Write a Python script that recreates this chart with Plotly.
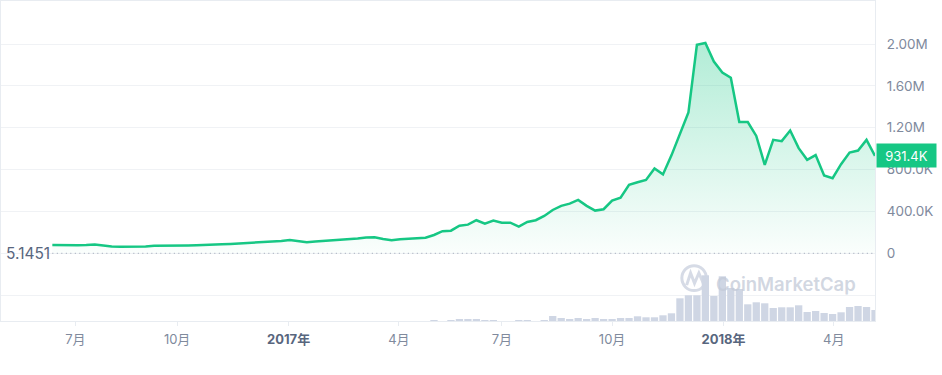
import plotly.graph_objects as go
import pandas as pd

# ---------------- data ----------------
start_date = "2016-06-22"          # first weekly point
# weekly price, in thousands
prices_k = [79, 77, 75, 77, 79, 84, 75, 65, 63, 63,
            63, 65, 73, 72, 70, 72, 75, 77, 78, 84,
            86, 89, 93, 96, 100, 103, 110, 118, 127, 118,
            105, 113, 118, 127, 127, 135, 142, 150, 153, 137,
            124, 134, 139, 140, 149, 175, 211, 216, 264, 274,
            316, 283, 312, 293, 293, 255, 300, 316, 357, 414,
            453, 475, 510, 453, 408, 421, 503, 532, 654, 679,
            701, 810, 754, 936, 1132, 1345, 1993, 2010, 1833, 1728,
            1677, 1254, 1254, 1122, 845, 1084, 1072, 1173, 1005, 893,
            938, 743, 718, 852, 963, 982, 1084, 931.4]
# weekly volume (arbitrary units)
volume = [0, 0, 0, 0, 0, 0, 0, 0, 0, 0,
          0, 0, 0, 0, 0, 0, 0, 0, 0, 0,
          0, 0, 0, 0, 0, 0, 0, 0, 0, 0,
          0, 0, 0, 0, 0, 0, 0, 0, 0, 0,
          0, 0, 0, 0, 0, 10, 0, 10, 20, 20,
          20, 10, 10, 0, 0, 10, 10, 0, 10, 50,
          30, 20, 30, 20, 30, 20, 20, 30, 30, 47,
          37, 37, 57, 77, 227, 257, 257, 457, 250, 447,
          330, 320, 167, 187, 177, 130, 137, 137, 157, 90,
          100, 80, 70, 87, 140, 150, 140, 110]
baseline_value = 5.1451
baseline_label = "5.1451"
last_label = "931.4K"

x_tick_dates = ["2016-07-11", "2016-10-03", "2017-01-03", "2017-04-04",
                "2017-06-28", "2017-09-27", "2017-12-28", "2018-03-29"]
x_tick_text = ["7月", "10月", "<span style='color:#58667e'><b>2017年</b></span>", "4月",
               "7月", "10月", "<span style='color:#58667e'><b>2018年</b></span>", "4月"]
y_tick_vals = [-400000, 0, 400000, 800000, 1200000, 1600000, 2000000]
y_tick_text = ["", "0", "400.0K", "800.0K", "1.20M", "1.60M", "2.00M"]

# ---------------------------------------------------------------
dates = pd.date_range(start_date, periods=len(prices_k), freq="7D")
prices = [p * 1000 for p in prices_k]

GREEN = "#16c784"
GRID = "#f0f2f5"
BORDER = "#e8ecf1"
FONT = "Inter, Noto Sans CJK SC, sans-serif"

fig = go.Figure()

fig.add_bar(x=dates, y=volume, yaxis="y2", marker_color="#cfd6e4",
            marker_line_width=0, hoverinfo="skip")

fig.add_scatter(
    x=dates, y=prices, mode="lines",
    line=dict(color=GREEN, width=2.5),
    fill="tozeroy",
    fillgradient=dict(type="vertical",
                      colorscale=[[0, "rgba(22,199,132,0.02)"],
                                  [1, "rgba(22,199,132,0.33)"]],
                      start=0, stop=max(prices)),
    hoverinfo="skip",
)

# dotted baseline
fig.add_shape(type="line", xref="x", yref="y",
              x0=dates[0], x1=dates[-1], y0=baseline_value, y1=baseline_value,
              line=dict(color="#9aa3b5", width=1, dash="1px,3.5px"))

# watermark logo (circle + zigzag)
fig.add_shape(type="circle", xref="paper", yref="paper",
              x0=0.779, x1=0.807, y0=0.095, y1=0.173, layer="below",
              line=dict(color="rgba(200,207,221,0.75)", width=3))
fig.add_shape(type="path", xref="paper", yref="paper", layer="below",
              path="M 0.7845 0.112 L 0.789 0.150 L 0.7935 0.118 L 0.7985 0.150 L 0.8035 0.118",
              line=dict(color="rgba(200,207,221,0.75)", width=3))

fig.add_annotation(text="CoinMarketCap", xref="paper", yref="paper",
                   x=0.898, y=0.117, xanchor="center", yanchor="middle",
                   showarrow=False,
                   font=dict(family=FONT, size=18.5, color="rgba(195,202,216,0.75)", weight=600))

# baseline label
fig.add_annotation(text=baseline_label, xref="paper", yref="y",
                   x=0, y=baseline_value, xanchor="left", yanchor="middle",
                   xshift=3, showarrow=False,
                   font=dict(family=FONT, size=15.5, color="#58667e"))

# last price tag
fig.add_annotation(text=last_label, xref="paper", yref="y",
                   x=1, y=prices[-1], xanchor="left", yanchor="middle",
                   xshift=1, showarrow=False, bgcolor=GREEN,
                   width=53, height=17, borderpad=3,
                   font=dict(family=FONT, size=13, color="white"))

fig.update_layout(
    width=942, height=375,
    margin=dict(l=1, r=67, t=1, b=54),
    paper_bgcolor="white", plot_bgcolor="white",
    showlegend=False, bargap=0.14,
    font=dict(family=FONT),
    xaxis=dict(type="date", range=["2016-05-10 15:00", "2018-05-02"],
               tickvals=x_tick_dates, ticktext=x_tick_text,
               showgrid=False, zeroline=False,
               showline=True, mirror=True, linecolor=BORDER, linewidth=1,
               ticks="outside", ticklen=4, tickcolor=BORDER,
               ticklabelstandoff=2,
               tickfont=dict(family=FONT, size=13, color="#808a9d")),
    yaxis=dict(side="right", range=[-647000, 2411000],
               tickvals=y_tick_vals, ticktext=y_tick_text,
               showgrid=True, gridcolor=GRID, zeroline=False,
               showline=True, mirror=True, linecolor=BORDER, linewidth=1,
               ticks="", ticklabelstandoff=8,
               tickfont=dict(family=FONT, size=13.5, color="#808a9d")),
    yaxis2=dict(overlaying="y", range=[0, 3200], visible=False),
)

fig.write_html("out.html")
